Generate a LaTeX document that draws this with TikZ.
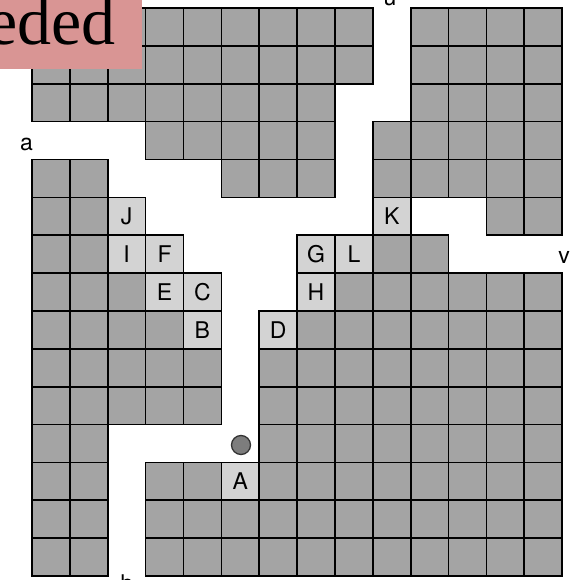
\documentclass[tikz,border=0pt]{standalone}
\usepackage{fontspec}
\setmainfont{TeX Gyre Heros}
\newfontfamily\tagserif{Liberation Serif}
\definecolor{celldark}{RGB}{164,164,164}
\definecolor{celllight}{RGB}{211,211,211}
\definecolor{tagpink}{RGB}{217,149,148}
\definecolor{dotgray}{RGB}{125,125,125}
\begin{document}
\begin{tikzpicture}[x=1pt,y=-1pt,
  cellbox/.style={draw=black,line width=1.7pt,minimum size=37.87pt,inner sep=0pt,outer sep=0pt,
    font=\fontsize{23}{23}\selectfont},
  darkcell/.style={cellbox,fill=celldark},
  lightcell/.style={cellbox,fill=celllight},
  lbl/.style={font=\fontsize{23}{23}\selectfont,inner sep=0pt,anchor=base}]
\useasboundingbox (0,0) rectangle (576,580);
\def\s{37.87}
% dark cells, row / columns
\foreach \r/\cols in {
  0/{0,...,8,10,11,12,13},
  1/{0,...,8,10,11,12,13},
  2/{0,...,7,10,11,12,13},
  3/{3,...,7,9,10,11,12,13},
  4/{0,1,5,6,7,9,10,11,12,13},
  5/{0,1,12,13},
  6/{0,1,9,10},
  7/{0,1,2,8,9,10,11,12,13},
  8/{0,1,2,3,7,8,9,10,11,12,13},
  9/{0,...,4,6,7,8,9,10,11,12,13},
  10/{0,...,4,6,7,8,9,10,11,12,13},
  11/{0,1,6,7,8,9,10,11,12,13},
  12/{0,1,3,4,6,7,8,9,10,11,12,13},
  13/{0,1,3,4,5,6,7,8,9,10,11,12,13},
  14/{0,1,3,4,5,6,7,8,9,10,11,12,13}} {
  \foreach \c in \cols {
    \node[darkcell] (d-\r-\c) at ({32+\s*(\c+0.5)},{8+\s*(\r+0.5)}) {};
  }
}
% light lettered cells
\foreach \r/\c/\t in {5/2/J,5/9/K,6/2/I,6/3/F,6/7/G,6/8/L,7/3/E,7/4/C,7/7/H,8/4/B,8/6/D,12/5/A} {
  \node[lightcell] (\t) at ({32+\s*(\c+0.5)},{8+\s*(\r+0.5)}) {\t};
}
% marker
\node[circle,draw=black!80,line width=1.3pt,fill=dotgray,minimum size=19pt,inner sep=0pt] (dot) at (241,445) {};
% border labels
\node[lbl] (la) at (26.5,150) {a};
\node[lbl] (lu) at (390,6) {u};
\node[lbl] (lv) at (564,263) {v};
\node[lbl] (lb) at (127,591) {b};
% tag
\fill[tagpink] (0,0) rectangle (142,69.5);
\begin{scope}
\clip (0,0) rectangle (142,69.5);
\node[inner sep=0pt,anchor=base east,font=\tagserif\fontsize{68}{68}\selectfont] (tag) at (116,45) {eded};
\end{scope}
\end{tikzpicture}
\end{document}
